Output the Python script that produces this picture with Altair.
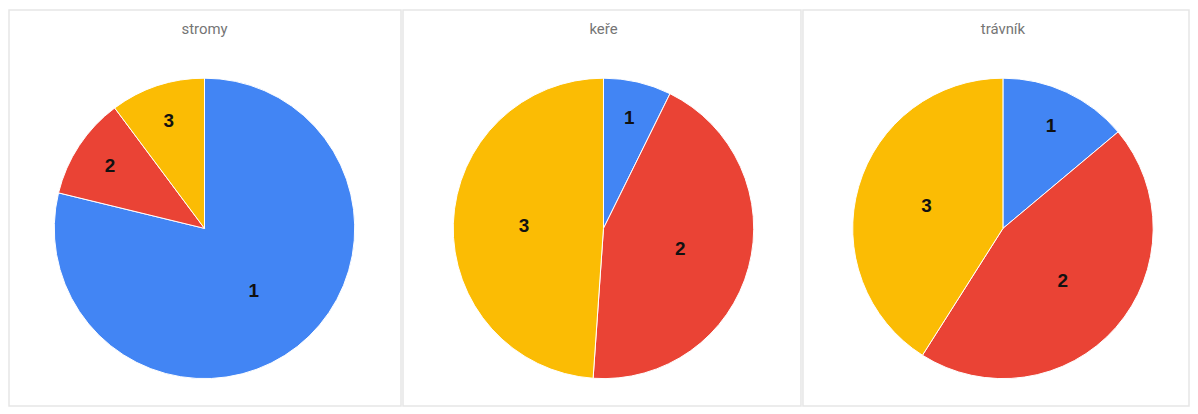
import altair as alt
import pandas as pd

panels = ["stromy", "keře", "trávník"]
slices = ["1", "2", "3"]
stromy = [78.8, 11.0, 10.2]
kere = [7.3, 43.8, 48.9]
travnik = [13.9, 45.1, 41.0]
colors = ["#4285F4", "#EA4335", "#FBBC04"]

series = {"stromy": stromy, "keře": kere, "trávník": travnik}
rows = []
for p in panels:
    for s, v in zip(slices, series[p]):
        rows.append({"panel": p, "slice": s, "value": v})
df = pd.DataFrame(rows)

widths = [394, 400, 388]
centers = [196.5, 201.5, 201]
H = 398
CY = 219.5
R = 151


def panel_chart(name, w, cx):
    base = alt.Chart(df).transform_filter(alt.datum.panel == name)
    arc = base.mark_arc(radius=R, stroke="white", strokeWidth=1).encode(
        theta=alt.Theta("value:Q", stack=True, scale=alt.Scale(domain=[0, 100])),
        order=alt.Order("slice:N", sort="ascending"),
        color=alt.Color("slice:N", scale=alt.Scale(domain=slices, range=colors), legend=None),
        x=alt.value(cx),
        y=alt.value(CY),
    )
    labels = base.transform_joinaggregate(
        total="sum(value)"
    ).transform_stack(
        stack="value", groupby=["panel"], as_=["v0", "v1"], sort=[alt.SortField("slice", order="ascending")]
    ).transform_calculate(
        mid="50 * (datum.v0 + datum.v1) / datum.total",
        lr="datum.value / datum.total < 0.2 ? 114 : 80",
    ).mark_text(font="Liberation Sans", fontSize=19, fontWeight="bold", color="#111111").encode(
        theta=alt.Theta("mid:Q", stack=None, scale=alt.Scale(domain=[0, 100])),
        radius=alt.Radius("lr:Q", scale=None),
        text="slice:N",
        x=alt.value(cx),
        y=alt.value(CY),
    )
    title = base.transform_filter(alt.datum.slice == "1").mark_text(
        font="Roboto", fontSize=15, color="#757575"
    ).encode(
        text="panel:N",
        x=alt.value(cx),
        y=alt.value(19),
    )
    return alt.layer(arc, labels, title).properties(width=w, height=H)


chart = alt.hconcat(
    *[panel_chart(p, w, c) for p, w, c in zip(panels, widths, centers)],
    spacing=0,
).properties(padding=0, background="white").configure_view(
    stroke="#e6e6e6", strokeWidth=1.5
)

chart.save("out.html", embed_options={"renderer": "svg", "actions": False})
